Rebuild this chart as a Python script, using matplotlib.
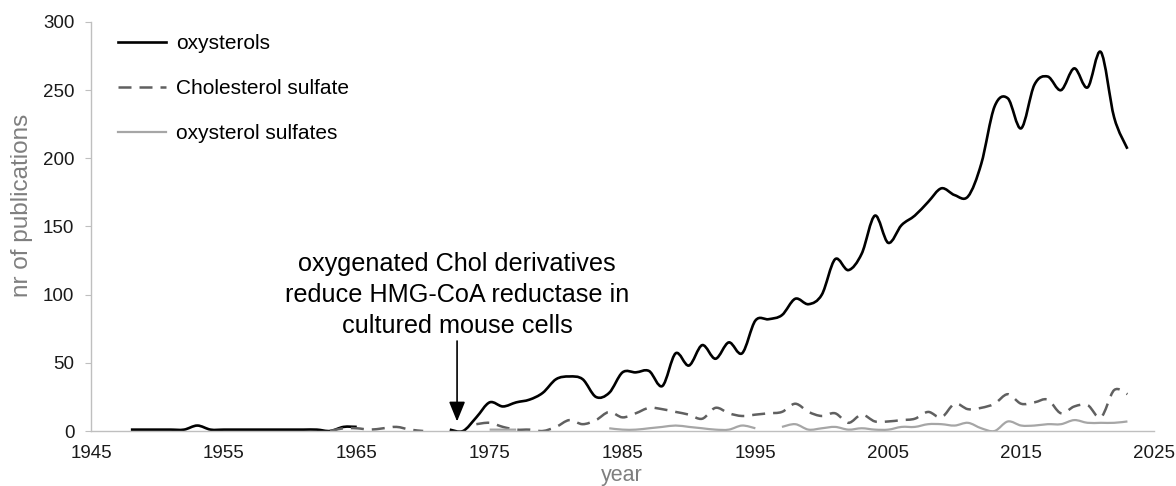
import numpy as np
import matplotlib
matplotlib.use("Agg")
import matplotlib.pyplot as plt
from matplotlib.path import Path
from matplotlib.patches import PathPatch
from matplotlib.lines import Line2D

plt.rcParams['font.family'] = ['Liberation Sans', 'DejaVu Sans']

nan = np.nan
years = list(range(1948, 2024))

oxysterols = [1, 1, 1, 1, 1, 4, 1, 1, 1, 1, 1, 1, 1, 1, 1, 0, 3, 3,          # 1948-1965
              nan, nan, nan, nan, nan, nan,                                    # 1966-1971
              1, 0, 10, 21, 18, 21, 23, 28, 38, 40, 38, 25, 28,                # 1972-1984
              43, 43, 44, 33, 57, 48, 63, 53, 65, 57,                          # 1985-1994
              81, 82, 85, 97, 93, 100, 126, 118, 130, 158,                     # 1995-2004
              138, 151, 158, 168, 178, 173, 172, 196, 238, 244,                # 2005-2014
              222, 254, 260, 250, 266, 252, 278, 230, 207]                     # 2015-2023

cholesterol_sulfate = [nan] * 15 + [0, 2, 2, 1, 2, 3, 1, 0] + [nan] * 3 + [   # 1948-1973
              5, 6, 3, 1, 1, 0, 3, 8, 5, 8, 14,                                # 1974-1984
              10, 13, 17, 16, 14, 12, 9, 17, 13, 11,                           # 1985-1994
              12, 13, 14, 20, 14, 11, 13, 6, 12, 7,                            # 1995-2004
              7, 8, 9, 14, 10, 20, 16, 17, 20, 27,                             # 2005-2014
              20, 21, 23, 13, 18, 19, 10, 30, 27]                              # 2015-2023

oxysterol_sulfates = [nan] * 27 + [1, 1, 1] + [nan] * 6 + [                   # 1948-1983
              2, 1, 1, 2, 3, 4, 3, 2, 1, 1, 4,                                 # 1984-1994
              2, nan, 3, 5, 1, 2, 3, 1, 2, 1,                                  # 1995-2004
              1, 3, 3, 5, 5, 4, 6, 2, 0, 7,                                    # 2005-2014
              4, 4, 5, 5, 8, 6, 6, 6, 7]                                       # 2015-2023

series_names = ["oxysterols", "Cholesterol sulfate", "oxysterol sulfates"]
x_ticks = list(range(1945, 2026, 10))
y_ticks = list(range(0, 301, 50))
annotation = "oxygenated Chol derivatives\nreduce HMG-CoA reductase in\ncultured mouse cells"
annotation_year = 1972.55


def smooth_path(xs, ys):
    """Excel-like smoothed line: cubic Bezier segments through the data points."""
    xs = np.asarray(xs, float)
    ys = np.asarray(ys, float)
    verts, codes = [], []
    ok = np.isfinite(ys)
    i = 0
    n = len(xs)
    while i < n:
        if not ok[i]:
            i += 1
            continue
        j = i
        while j < n and ok[j]:
            j += 1
        pts = np.column_stack([xs[i:j], ys[i:j]])
        m = len(pts)
        if m >= 2:
            verts.append(pts[0]); codes.append(Path.MOVETO)
            for k in range(m - 1):
                p0 = pts[k - 1] if k > 0 else pts[k]
                p1 = pts[k]
                p2 = pts[k + 1]
                p3 = pts[k + 2] if k + 2 < m else pts[k + 1]
                c1 = p1 + (p2 - p0) / 6.0
                c2 = p2 - (p3 - p1) / 6.0
                verts += [c1, c2, p2]
                codes += [Path.CURVE4] * 3
        i = j
    return Path(np.array(verts), codes)


fig = plt.figure(figsize=(11.76, 4.86), dpi=100)
ax = fig.add_axes([91 / 1176, 55 / 486, 1063 / 1176, 409 / 486])

styles = [
    dict(color="#000000", lw=1.9, ls="-"),
    dict(color="#606060", lw=1.8, ls=(0, (5.2, 3.2))),
    dict(color="#a6a6a6", lw=1.6, ls="-"),
]
for vals, st in zip([oxysterols, cholesterol_sulfate, oxysterol_sulfates], styles):
    patch = PathPatch(smooth_path(years, vals), fill=False, edgecolor=st["color"],
                      lw=st["lw"], linestyle=st["ls"], capstyle="butt", joinstyle="round")
    ax.add_patch(patch)

ax.set_xlim(1945, 2025)
ax.set_ylim(0, 300)
ax.set_xticks(x_ticks)
ax.set_yticks(y_ticks)
for s in ["top", "right"]:
    ax.spines[s].set_visible(False)
for s in ["left", "bottom"]:
    ax.spines[s].set_color("#bfbfbf")
    ax.spines[s].set_linewidth(1.0)
ax.tick_params(axis="y", length=4, color="#bfbfbf", labelsize=13.5, pad=8, labelcolor="#1a1a1a")
ax.tick_params(axis="x", length=0, labelsize=13.5, pad=10, labelcolor="#1a1a1a")

fig.text(22 / 1176, 1 - 205 / 486, "nr of publications", rotation=90, ha="center", va="center",
         fontsize=17.5, color="#7f7f7f")
fig.text(622 / 1176, 1 - 475 / 486, "year", ha="center", va="center", fontsize=15.5, color="#7f7f7f")

handles = [Line2D([], [], color=st["color"], lw=st["lw"], ls=st["ls"]) for st in styles]
ax.legend(handles, series_names, loc="upper left", bbox_to_anchor=(0.0254, 0.970),
          frameon=False, fontsize=15, handlelength=2.3, handletextpad=0.5,
          labelspacing=1.25, borderpad=0, borderaxespad=0)

ax.text(annotation_year, 68, annotation, ha="center", va="bottom", multialignment="center",
        fontsize=18.2, linespacing=1.38, color="#000000")
ax.annotate("", xy=(annotation_year, 7), xytext=(annotation_year, 66),
            arrowprops=dict(arrowstyle="-|>,head_length=1.1,head_width=0.45", color="black",
                            lw=1.2, shrinkA=0, shrinkB=0, mutation_scale=11))

fig.savefig("out.png", dpi=100)
